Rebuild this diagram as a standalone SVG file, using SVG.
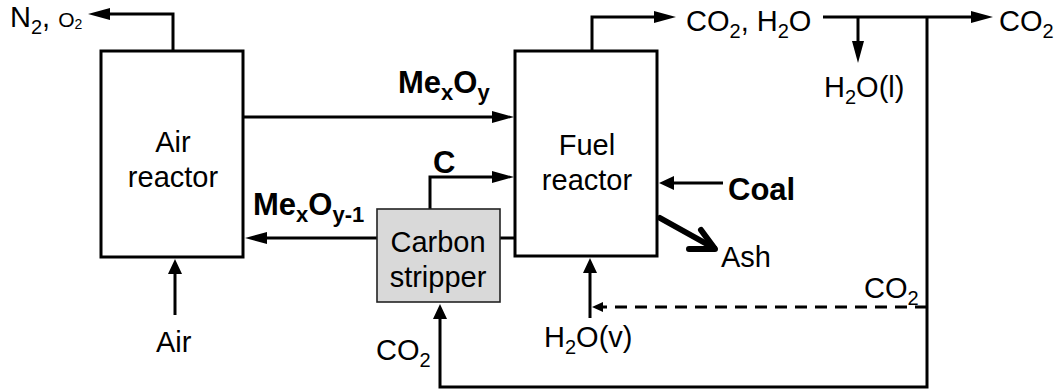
<svg xmlns="http://www.w3.org/2000/svg" width="1063" height="390" viewBox="0 0 1063 390">
<style>
  .box{fill:#fff;stroke:#000;stroke-width:3}
  .strip{fill:#d9d9d9;stroke:#222;stroke-width:1.6}
  .ln{fill:none;stroke:#000;stroke-width:3}
  .dash{stroke-dasharray:12 8}
  text{font-family:"Liberation Sans",Arial,Helvetica,sans-serif;fill:#000}
  .t{font-size:29px}
  .c{text-anchor:middle}
  .b{font-size:31px;font-weight:bold}
  .sub{font-size:20px}
  .bsub{font-size:22px}
</style>
<defs>
  <marker id="al" viewBox="0 0 22 12" markerWidth="22" markerHeight="12" refX="14" refY="6" orient="auto" markerUnits="userSpaceOnUse"><path d="M0,0 L22,6 L0,12 z" fill="#000"/></marker>
  <marker id="as" viewBox="0 0 15 14" markerWidth="15" markerHeight="14" refX="8" refY="7" orient="auto" markerUnits="userSpaceOnUse"><path d="M0,0 L15,7 L0,14 z" fill="#000"/></marker>
  <marker id="ad" viewBox="0 0 11 10" markerWidth="11" markerHeight="10" refX="5" refY="5" orient="auto" markerUnits="userSpaceOnUse"><path d="M0,0 L11,5 L0,10 z" fill="#000"/></marker>
</defs>

<g id="connectors">
  <path class="ln" d="M173,51 V14 H96" marker-end="url(#al)"/>
  <path class="ln" d="M243,117 H506" marker-end="url(#al)"/>
  <path class="ln" d="M377,238 H253" marker-end="url(#al)"/>
  <path class="ln" d="M500,238 H515"/>
  <path class="ln" d="M430,209 V177 H506" marker-end="url(#al)"/>
  <path class="ln" d="M592,51 V17 H668" marker-end="url(#al)"/>
  <path class="ln" d="M823,17 H985" marker-end="url(#al)"/>
  <path class="ln" d="M858,17 V55" marker-end="url(#al)"/>
  <path class="ln" d="M927,17 V387 H440 V311" marker-end="url(#as)"/>
  <path class="ln dash" d="M927,307 H598" marker-end="url(#ad)"/>
  <path class="ln" d="M590,318 V265" marker-end="url(#as)"/>
  <path class="ln" d="M175,315 V266" marker-end="url(#as)"/>
  <path class="ln" d="M723,183 H666" marker-end="url(#as)"/>
  <g id="ash-arrow" fill="none" stroke="#000" stroke-width="6" stroke-linecap="round" stroke-linejoin="round">
    <path d="M660,218 L714,248"/>
    <path d="M689,249 L715,249 L701,230"/>
  </g>
</g>

<g id="air-reactor">
  <rect class="box" x="101" y="51" width="142" height="206"/>
  <text class="t c" x="173" y="152">Air</text>
  <text class="t c" x="173" y="187">reactor</text>
</g>

<g id="fuel-reactor">
  <rect class="box" x="515" y="51" width="142" height="205"/>
  <text class="t c" x="587" y="155">Fuel</text>
  <text class="t c" x="587" y="190">reactor</text>
</g>

<g id="carbon-stripper">
  <rect class="strip" x="377" y="209" width="123" height="93"/>
  <text class="t c" x="438" y="252">Carbon</text>
  <text class="t c" x="438" y="287">stripper</text>
</g>

<g id="labels">
  <text class="t" x="10" y="27">N<tspan class="sub" dy="7">2</tspan><tspan dy="-7">, </tspan><tspan font-size="21px">O</tspan><tspan font-size="14px" dy="2">2</tspan></text>
  <text class="b" x="398" y="93">Me<tspan class="bsub" dy="7">x</tspan><tspan dy="-7">O</tspan><tspan class="bsub" dy="7">y</tspan></text>
  <text class="b" x="253" y="215">Me<tspan class="bsub" dy="7">x</tspan><tspan dy="-7">O</tspan><tspan class="bsub" dy="7">y-1</tspan></text>
  <text class="b" x="433" y="173">C</text>
  <text class="b" x="728" y="200">Coal</text>
  <text class="t" x="721" y="267">Ash</text>
  <text class="t" x="686" y="31">CO<tspan class="sub" dy="7">2</tspan><tspan dy="-7">, H</tspan><tspan class="sub" dy="7">2</tspan><tspan dy="-7">O</tspan></text>
  <text class="t" x="999" y="31">CO<tspan class="sub" dy="7">2</tspan></text>
  <text class="t" x="824" y="97">H<tspan class="sub" dy="7">2</tspan><tspan dy="-7">O(l)</tspan></text>
  <text class="t" x="864" y="298">CO<tspan class="sub" dy="7">2</tspan></text>
  <text class="t" x="544" y="347">H<tspan class="sub" dy="7">2</tspan><tspan dy="-7">O(v)</tspan></text>
  <text class="t" x="156" y="352">Air</text>
  <text class="t" x="376" y="360">CO<tspan class="sub" dy="7">2</tspan></text>
</g>
</svg>
